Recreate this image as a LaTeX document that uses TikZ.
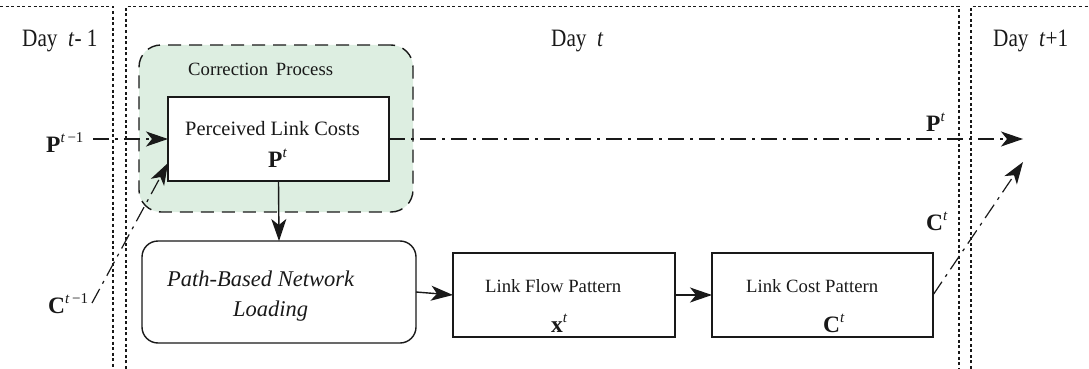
\documentclass[tikz,border=0pt]{standalone}
\usepackage{fontspec}
\setmainfont{Liberation Serif}
\newfontfamily\dayfont[FakeStretch=0.85]{Liberation Serif}
\usetikzlibrary{arrows.meta,calc}
\definecolor{corrgreen}{RGB}{221,238,225}
\definecolor{ink}{RGB}{25,25,25}
% bold vector symbol with an italic superscript
\newcommand\vecsym[2]{\textbf{#1}\raisebox{9.5pt}{\fontsize{15}{15}\selectfont #2}}

\begin{document}
\begin{tikzpicture}[x=1pt,y=-1pt, color=ink,
  divider/.style={line width=1.4pt, dash pattern=on 3pt off 2.6pt},
  flowbox/.style={draw, line width=1.4pt, inner sep=0pt, outer sep=0pt},
  corrbox/.style={draw, fill=corrgreen, line width=1.4pt,
    dash pattern=on 13pt off 8pt, rounded corners=22pt, inner sep=0pt},
  lbl/.style={inner sep=0pt, anchor=base west, font=\fontsize{18.7}{22}\selectfont},
  biglbl/.style={inner sep=0pt, anchor=base west, font=\fontsize{20.4}{24}\selectfont},
  pathlbl/.style={inner sep=0pt, anchor=base west, font=\fontsize{22.5}{26}\selectfont\itshape},
  sym/.style={inner sep=0pt, anchor=base west, font=\fontsize{23.5}{26}\selectfont},
  daylbl/.style={inner sep=0pt, anchor=base west, font=\dayfont\fontsize{25}{28}\selectfont},
  tip/.style={-{Stealth[length=22pt,width=15pt,inset=6pt]}},
  feed/.style={tip, line width=1.2pt, dash pattern=on 16pt off 6pt on 3pt off 6pt},
  flow/.style={tip, line width=1.4pt}]
\useasboundingbox (0,0) rectangle (1089,369);

% day boundaries
\draw[divider] (0,6.5) -- (113,6.5) -- (113,369);
\draw[divider] (126,369) -- (126,6.5) -- (959,6.5) -- (959,369);
\draw[divider] (971,369) -- (971,6.5) -- (1089,6.5);

\node[daylbl] (dayprev) at (22,47) {Day\ \ \textit{t}- 1};
\node[daylbl] (daycur) at (551,47) {Day\ \ \textit{t}};
\node[daylbl] (daynext) at (993,47) {Day\ \ \textit{t}+1};

% correction process
\node[corrbox, minimum width=274pt, minimum height=167pt] (corr) at (276,128.5) {};
\node[lbl] (corrlbl) at (188,75) {Correction\ \,Process};
\node[flowbox, fill=white, minimum width=221pt, minimum height=84pt] (perc) at (278.5,139) {};
\node[biglbl] (perclbl) at (185,135) {Perceived Link Costs};
\node[sym] (percsym) at (268,167) {\vecsym{P}{\textit{t}}};

% network loading
\node[flowbox, rounded corners=16pt, minimum width=274pt, minimum height=102pt] (pbox) at (279,292) {};
\node[pathlbl] (pathlbl) at (167,286) {Path-Based Network};
\node[pathlbl] (loadlbl) at (233,316) {Loading};

% link patterns
\node[flowbox, minimum width=222pt, minimum height=84pt] (flow) at (564,295) {};
\node[lbl] (flowlbl) at (485,292) {Link Flow Pattern};
\node[sym] (flowsym) at (551,332) {\vecsym{x}{\textit{t}}};

\node[flowbox, minimum width=221pt, minimum height=84pt] (cost) at (822.5,295) {};
\node[lbl] (costlbl) at (746,292) {Link Cost Pattern};
\node[sym] (costsym) at (823,332) {\vecsym{C}{\textit{t}}};

% inputs from the previous day
\node[sym] (pprevlbl) at (46,152) {\vecsym{P}{\textit{t}\,−1}};
\node[sym] (cprevlbl) at (48,313) {\vecsym{C}{\textit{t}\,−1}};
\coordinate (pprev) at (93,139);
\coordinate (cprev) at (92,303);
\coordinate (cin) at (168,163);

% outputs to the next day
\node[sym] (pnextlbl) at (926,131) {\vecsym{P}{\textit{t}}};
\node[sym] (cnextlbl) at (926,230) {\vecsym{C}{\textit{t}}};
\coordinate (pnext) at (1023,139);
\coordinate (cnext) at (1023,162);

% connectors
\draw[flow] (perc.south) -- (pbox.north);
\draw[flow] (pbox.east) -- (flow.west);
\draw[flow] (flow.east) -- (cost.west);
\draw[feed] (pprev) -- (perc.west);
\draw[feed] (cprev) -- (cin);
\draw[feed] (perc.east) -- (pnext);
\draw[feed] (cost.east) -- (cnext);
\end{tikzpicture}
\end{document}
